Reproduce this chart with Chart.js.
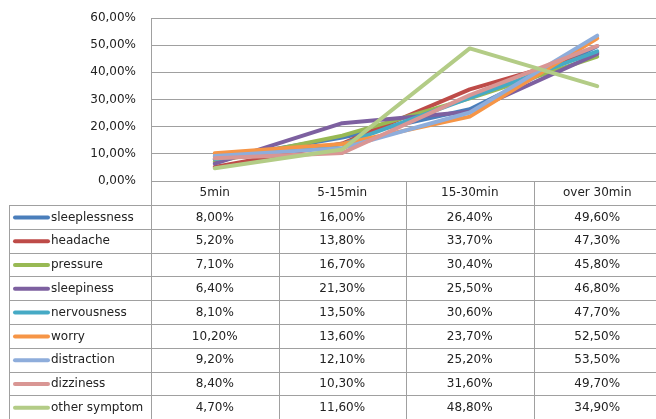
<!DOCTYPE html>
<html>
<head>
<meta charset="utf-8">
<script src="https://cdn.jsdelivr.net/npm/chart.js@4/dist/chart.umd.min.js"></script>
<style>
  html, body { margin: 0; padding: 0; background: #fff; overflow: hidden; }
  #wrap { width: 661px; height: 419px; position: relative; }
</style>
</head>
<body>
<div id="wrap"><canvas id="c" width="661" height="419"></canvas></div>
<script>
// Duration categories
const categories = ['5min', '5-15min', '15-30min', 'over 30min'];

// Symptom names
const symptoms = ['sleeplessness', 'headache', 'pressure', 'sleepiness', 'nervousness',
                  'worry', 'distraction', 'dizziness', 'other symptom'];

// Share of respondents (%) per duration
const sleeplessness = [8.0, 16.0, 26.4, 49.6];
const headache      = [5.2, 13.8, 33.7, 47.3];
const pressure      = [7.1, 16.7, 30.4, 45.8];
const sleepiness    = [6.4, 21.3, 25.5, 46.8];
const nervousness   = [8.1, 13.5, 30.6, 47.7];
const worry         = [10.2, 13.6, 23.7, 52.5];
const distraction   = [9.2, 12.1, 25.2, 53.5];
const dizziness     = [8.4, 10.3, 31.6, 49.7];
const otherSymptom  = [4.7, 11.6, 48.8, 34.9];

const seriesValues = [sleeplessness, headache, pressure, sleepiness, nervousness,
                      worry, distraction, dizziness, otherSymptom];

const colors = ['#4a7ebb', '#be4b48', '#98b954', '#7d60a0', '#46aac5',
                '#f69546', '#8eaddb', '#d99694', '#b3cc86'];

const yTicks = [0, 10, 20, 30, 40, 50, 60];

const fmt = v => v.toFixed(2).replace('.', ',') + '%';

const FONT = { family: '"DejaVu Sans", Verdana, sans-serif', size: 12 };
const TEXT = '#222222';
const LINE = '#a0a0a0';

// Layout of the data table under the plot
const TABLE_LEFT = 9;
const HEADER_H = 24;
const ROW_H = 23.8;

const tablePlugin = {
  id: 'dataTable',
  afterDraw(chart) {
    const ctx = chart.ctx;
    const xs = chart.scales.x;
    const area = chart.chartArea;
    const H = chart.height;
    const n = categories.length;
    const step = (area.right - area.left) / n;
    const headTop = area.bottom;
    const bodyTop = headTop + HEADER_H;
    const crisp = v => Math.round(v) + 0.5;

    ctx.save();
    ctx.strokeStyle = LINE;
    ctx.lineWidth = 1;
    ctx.beginPath();
    // left border of plot + table label column
    ctx.moveTo(crisp(area.left), area.top);
    ctx.lineTo(crisp(area.left), H);
    // column separators
    for (let k = 1; k <= n; k++) {
      const x = crisp(area.left + step * k);
      ctx.moveTo(x, headTop);
      ctx.lineTo(x, H);
    }
    // outer left border of the table
    ctx.moveTo(crisp(TABLE_LEFT), bodyTop);
    ctx.lineTo(crisp(TABLE_LEFT), H);
    // row separators
    for (let r = 0; r <= symptoms.length; r++) {
      const y = crisp(bodyTop + ROW_H * r);
      ctx.moveTo(TABLE_LEFT, y);
      ctx.lineTo(chart.width, y);
    }
    ctx.stroke();

    ctx.font = `${FONT.size}px ${FONT.family}`;
    ctx.fillStyle = TEXT;
    ctx.textBaseline = 'middle';
    symptoms.forEach((name, r) => {
      const cy = bodyTop + ROW_H * r + ROW_H / 2 + 0.5;
      // legend key
      ctx.strokeStyle = colors[r];
      ctx.lineWidth = 4;
      ctx.lineCap = 'round';
      ctx.beginPath();
      ctx.moveTo(15, cy);
      ctx.lineTo(48, cy);
      ctx.stroke();
      ctx.textAlign = 'left';
      ctx.fillText(name, 51, cy);
      // values
      ctx.textAlign = 'center';
      seriesValues[r].forEach((v, i) => {
        ctx.fillText(fmt(v), xs.getPixelForValue(i), cy);
      });
    });
    ctx.restore();
  }
};

new Chart(document.getElementById('c'), {
  type: 'line',
  data: {
    labels: categories,
    datasets: symptoms.map((name, i) => ({
      label: name,
      data: seriesValues[i],
      borderColor: colors[i],
      backgroundColor: colors[i],
      borderWidth: 4,
      pointRadius: 0,
      pointHoverRadius: 0,
      tension: 0,
      borderJoinStyle: 'round',
      borderCapStyle: 'round',
      order: -i
    }))
  },
  options: {
    responsive: false,
    animation: false,
    devicePixelRatio: 1,
    layout: { padding: { top: 18, left: 0, right: 0, bottom: 0 } },
    plugins: { legend: { display: false }, tooltip: { enabled: false } },
    scales: {
      x: {
        offset: true,
        grid: { display: false, drawTicks: false },
        border: { display: false },
        ticks: { font: FONT, color: TEXT, padding: 5, maxRotation: 0 },
        afterFit(scale) {
          scale.height = 238;
          scale.paddingLeft = 0;
          scale.paddingRight = 0;
        }
      },
      y: {
        min: 0,
        max: 60,
        afterBuildTicks(scale) { scale.ticks = yTicks.map(v => ({ value: v })); },
        grid: { color: LINE, drawTicks: false },
        border: { display: false },
        ticks: { font: FONT, color: TEXT, padding: 15, callback: v => fmt(v) },
        afterFit(scale) {
          scale.width = 151;
          scale.paddingTop = 0;
          scale.paddingBottom = 0;
        }
      }
    }
  },
  plugins: [tablePlugin]
});
</script>
</body>
</html>
